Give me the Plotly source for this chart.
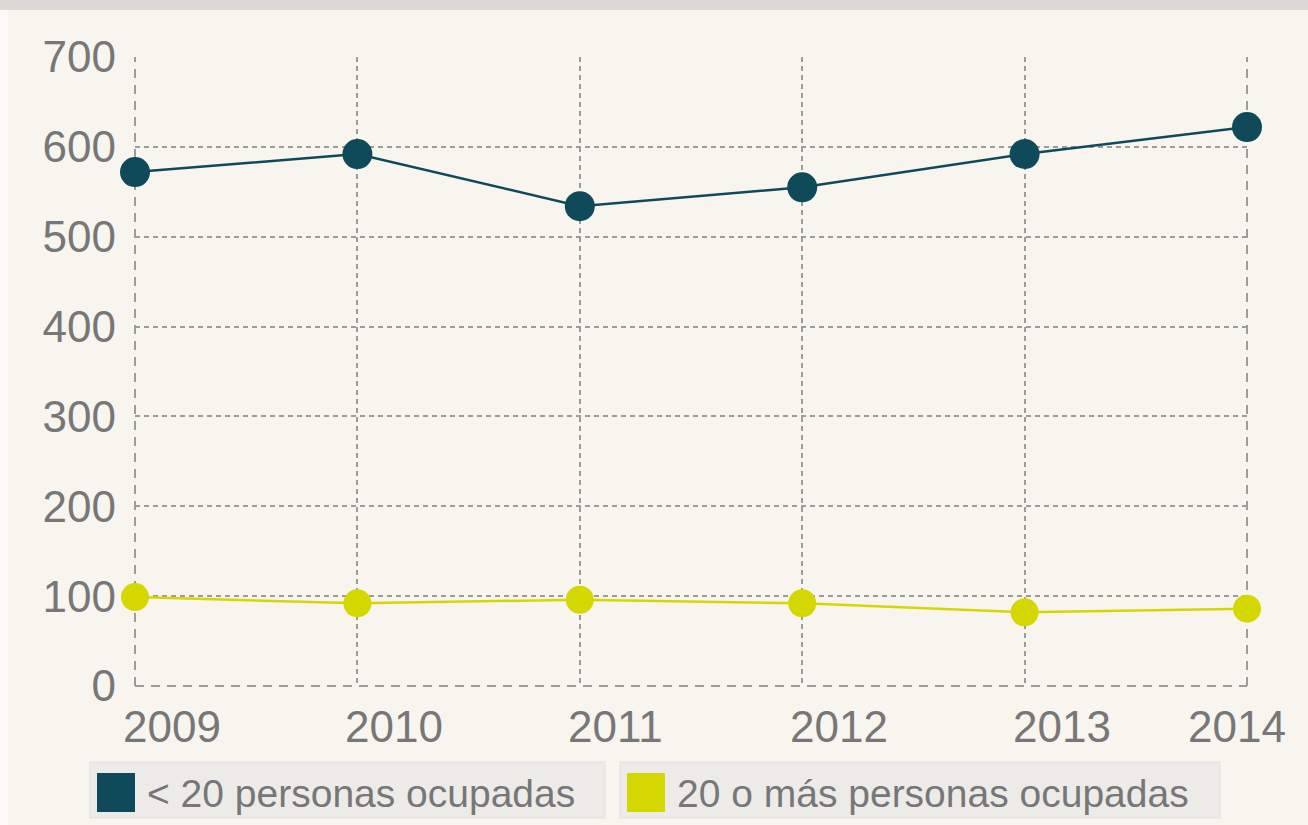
import plotly.graph_objects as go

# Empresas por tamaño (miles)
years = [2009, 2010, 2011, 2012, 2013, 2014]
series_names = ["< 20 personas ocupadas", "20 o más personas ocupadas"]
small_firms = [572, 592, 534, 555, 592, 622]
large_firms = [99, 92, 96, 92, 82, 86]
y_ticks = [0, 100, 200, 300, 400, 500, 600, 700]

DARK = "#0f4a5b"
YELLOW = "#d5d800"
BG = "#f7f5ee"
GRID = "#9e9c98"
LABEL = "#777777"
FONT = "Liberation Sans, Arial, sans-serif"

W, H = 1308, 825
L, R, T, B = 135, 61, 57, 139
pw, ph = W - L - R, H - T - B


def px(xp):
    """page pixel x -> paper coordinate"""
    return (xp - L) / pw


def py(yp):
    """page pixel y (from top) -> paper coordinate"""
    return (H - B - yp) / ph


fig = go.Figure()

for name, vals, color, size in [
    (series_names[0], small_firms, DARK, 30),
    (series_names[1], large_firms, YELLOW, 28),
]:
    fig.add_trace(go.Scatter(
        x=years, y=vals, name=name, mode="lines+markers",
        line=dict(color=color, width=2.5),
        marker=dict(color=color, size=size),
        cliponaxis=False, showlegend=False,
    ))

# dashed frame on the left, right and bottom edges of the plot
for x0, y0, x1, y1 in [(0, 0, 0, 1), (1, 0, 1, 1), (0, 0, 1, 0)]:
    fig.add_shape(type="line", xref="x domain", yref="y domain",
                  x0=x0, y0=y0, x1=x1, y1=y1,
                  line=dict(color=GRID, width=2, dash="9px,7px"), layer="below")

# grey band along the top of the page and a pale strip on the left edge
fig.add_shape(type="rect", xref="paper", yref="paper", x0=px(0), x1=px(W),
              y0=py(10), y1=py(0), line_width=0, fillcolor="#dcdad6", layer="below")
fig.add_shape(type="rect", xref="paper", yref="paper", x0=px(0), x1=px(8),
              y0=py(H), y1=py(10), line_width=0, fillcolor="#fbfaf7", layer="below")

# year labels start just left of each gridline; the last one ends at the edge
for i, yr in enumerate(years):
    last = i == len(years) - 1
    fig.add_annotation(x=yr, xref="x", y=0, yref="paper", yanchor="top",
                       xanchor="right" if last else "left",
                       xshift=41 if last else -14, yshift=-14,
                       text=str(yr), showarrow=False,
                       font=dict(family=FONT, size=44, color=LABEL))

# legend boxes drawn as shapes + text
legend_items = [
    (series_names[0], DARK, 90, 605, 97),
    (series_names[1], YELLOW, 620, 1220, 627),
]

for name, color, bx0, bx1, sx0 in legend_items:
    fig.add_shape(type="rect", xref="paper", yref="paper",
                  x0=px(bx0), x1=px(bx1), y0=py(818), y1=py(762),
                  fillcolor="#ecebe8", line=dict(color="#e2e1dd", width=1))
    fig.add_shape(type="rect", xref="paper", yref="paper",
                  x0=px(sx0), x1=px(sx0 + 38), y0=py(812), y1=py(773),
                  fillcolor=color, line_width=0)
    fig.add_annotation(xref="paper", yref="paper", x=px(sx0 + 48), y=py(793),
                       text=name, showarrow=False, xanchor="left", yanchor="middle",
                       font=dict(family=FONT, size=39, color=LABEL))

fig.update_layout(
    width=W, height=H,
    margin=dict(l=L, r=R, t=T, b=B),
    paper_bgcolor=BG, plot_bgcolor=BG,
    font=dict(family=FONT, color=LABEL),
    xaxis=dict(range=[2009, 2014], tickvals=years, showgrid=True,
               gridcolor=GRID, griddash="5px,4px", gridwidth=1.5,
               zeroline=False, showline=False, ticks="", showticklabels=False),
    yaxis=dict(range=[0, 700], tickvals=y_ticks, showgrid=True,
               gridcolor=GRID, griddash="5px,4px", gridwidth=1.5,
               zeroline=False, showline=False, ticks="",
               tickfont=dict(size=44, color=LABEL), ticklabelstandoff=18),
)

fig.write_html("out.html")
